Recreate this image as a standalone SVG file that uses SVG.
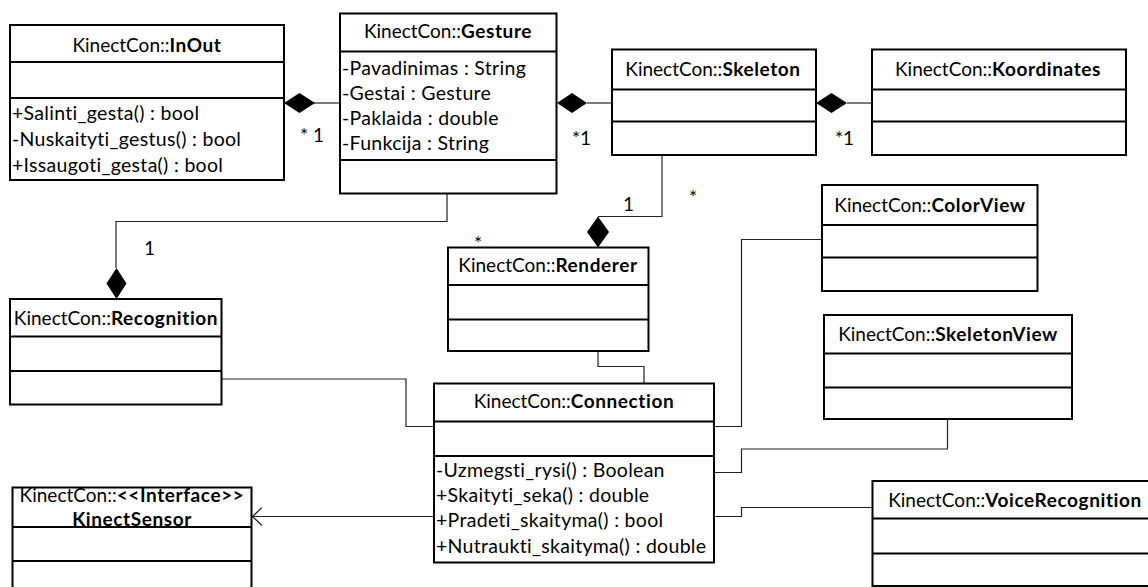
<svg xmlns="http://www.w3.org/2000/svg" width="1148" height="587" viewBox="0 0 1148 587">
  <style>
    text { font-family: Lato, "Liberation Sans", sans-serif; font-size: 19px; fill: #000; }
    .c { text-anchor: middle; }
    .b { font-weight: bold; letter-spacing: 0.6px; }
    .m { font-size: 19.5px; letter-spacing: 0.3px; }
    .box { fill: #fff; stroke: #000; stroke-width: 2; }
    .sep { stroke: #000; stroke-width: 2; }
    .wire { fill: none; stroke: #222; stroke-width: 1.2; }
    .dia { fill: #000; stroke: none; }
  </style>
  <rect width="1148" height="587" fill="#fff"/>

  <!-- associations -->
  <g id="connectors">
    <path class="wire" d="M314,103 H340"/>
    <path class="wire" d="M587,103 H612"/>
    <path class="wire" d="M847,103 H872"/>
    <path class="wire" d="M447,193 V221.5 H116 V268"/>
    <path class="wire" d="M662,155 V216.5 H598"/>
    <path class="wire" d="M598,351 V366.5 H644 V383"/>
    <path class="wire" d="M222,379 H406 V426.5 H434"/>
    <path class="wire" d="M822,239.5 H741.5 V426.5 H714"/>
    <path class="wire" d="M947.5,419 V449 H741.5 V472.5 H714"/>
    <path class="wire" d="M714,516.5 H741.5 V507.5 H872"/>
    <!-- dependency on the sensor interface, open arrowhead -->
    <path class="wire" d="M434,516.5 H253"/>
    <path class="wire" d="M262,507.5 L252.5,516.5 L262,525.5"/>
    <!-- composition diamonds -->
    <path class="dia" d="M284,103 L299.5,93 L315,103 L299.5,113 Z"/>
    <path class="dia" d="M557,103 L572,93 L587,103 L572,113 Z"/>
    <path class="dia" d="M816,103 L831.5,93 L847,103 L831.5,113 Z"/>
    <path class="dia" d="M116.5,268 L126.5,283.5 L116.5,299 L106.5,283.5 Z"/>
    <path class="dia" d="M598,216.5 L609,232 L598,247.5 L587,232 Z"/>
    <!-- multiplicities -->
    <text x="300" y="142">* 1</text>
    <text x="572" y="145">*1</text>
    <text x="835" y="145">*1</text>
    <text x="144" y="255">1</text>
    <text x="623" y="211">1</text>
    <text x="689" y="204">*</text>
    <text x="474" y="250">*</text>
  </g>

  <g id="inout">
    <rect class="box" x="10" y="25" width="274" height="155"/>
    <line class="sep" x1="10" y1="62" x2="284" y2="62"/>
    <line class="sep" x1="10" y1="98" x2="284" y2="98"/>
    <text class="c" x="147" y="52">KinectCon::<tspan class="b">InOut</tspan></text>
    <text class="m" x="12" y="120">+Salinti_gesta() : bool</text>
    <text class="m" x="12" y="146">-Nuskaityti_gestus() : bool</text>
    <text class="m" x="12" y="172">+Issaugoti_gesta() : bool</text>
  </g>

  <g id="gesture">
    <rect class="box" x="340" y="13.5" width="216.5" height="180"/>
    <line class="sep" x1="340" y1="51.5" x2="556.5" y2="51.5"/>
    <line class="sep" x1="340" y1="160" x2="556.5" y2="160"/>
    <text class="c" x="448" y="38">KinectCon::<tspan class="b">Gesture</tspan></text>
    <text class="m" x="342" y="75">-Pavadinimas : String</text>
    <text class="m" x="342" y="100">-Gestai : Gesture</text>
    <text class="m" x="342" y="125">-Paklaida : double</text>
    <text class="m" x="342" y="150">-Funkcija : String</text>
  </g>

  <g id="skeleton">
    <rect class="box" x="612" y="49.5" width="204" height="105.5"/>
    <line class="sep" x1="612" y1="89.5" x2="816" y2="89.5"/>
    <line class="sep" x1="612" y1="121.5" x2="816" y2="121.5"/>
    <text class="c" x="713" y="76">KinectCon::<tspan class="b">Skeleton</tspan></text>
  </g>

  <g id="koordinates">
    <rect class="box" x="872" y="49.5" width="254" height="105.5"/>
    <line class="sep" x1="872" y1="89.5" x2="1126" y2="89.5"/>
    <line class="sep" x1="872" y1="121.5" x2="1126" y2="121.5"/>
    <text class="c" x="998" y="76">KinectCon::<tspan class="b">Koordinates</tspan></text>
  </g>

  <g id="renderer">
    <rect class="box" x="448" y="247.5" width="200.5" height="103.5"/>
    <line class="sep" x1="448" y1="285" x2="648.5" y2="285"/>
    <line class="sep" x1="448" y1="319.5" x2="648.5" y2="319.5"/>
    <text class="c" x="548" y="272">KinectCon::<tspan class="b">Renderer</tspan></text>
  </g>

  <g id="recognition">
    <rect class="box" x="10" y="299" width="211.5" height="105.5"/>
    <line class="sep" x1="10" y1="336.5" x2="221.5" y2="336.5"/>
    <line class="sep" x1="10" y1="371" x2="221.5" y2="371"/>
    <text class="c" x="116" y="325">KinectCon::<tspan class="b">Recognition</tspan></text>
  </g>

  <g id="connection">
    <rect class="box" x="434" y="383.5" width="280" height="179"/>
    <line class="sep" x1="434" y1="421.5" x2="714" y2="421.5"/>
    <line class="sep" x1="434" y1="456" x2="714" y2="456"/>
    <text class="c" x="574" y="408">KinectCon::<tspan class="b">Connection</tspan></text>
    <text class="m" x="436" y="477">-Uzmegsti_rysi() : Boolean</text>
    <text class="m" x="436" y="502">+Skaityti_seka() : double</text>
    <text class="m" x="436" y="527">+Pradeti_skaityma() : bool</text>
    <text class="m" x="436" y="553">+Nutraukti_skaityma() : double</text>
  </g>

  <g id="colorview">
    <rect class="box" x="822" y="185" width="215.5" height="106"/>
    <line class="sep" x1="822" y1="225" x2="1037.5" y2="225"/>
    <line class="sep" x1="822" y1="257.5" x2="1037.5" y2="257.5"/>
    <text class="c" x="930" y="212">KinectCon::<tspan class="b">ColorView</tspan></text>
  </g>

  <g id="skeletonview">
    <rect class="box" x="824" y="315" width="248" height="104"/>
    <line class="sep" x1="824" y1="353.5" x2="1072" y2="353.5"/>
    <line class="sep" x1="824" y1="387.5" x2="1072" y2="387.5"/>
    <text class="c" x="948" y="341">KinectCon::<tspan class="b">SkeletonView</tspan></text>
  </g>

  <g id="voicerecognition">
    <rect class="box" x="872.5" y="481" width="290" height="105"/>
    <line class="sep" x1="872.5" y1="518.5" x2="1150" y2="518.5"/>
    <line class="sep" x1="872.5" y1="553.5" x2="1150" y2="553.5"/>
    <text class="c" x="1015" y="507">KinectCon::<tspan class="b">VoiceRecognition</tspan></text>
  </g>

  <g id="kinectsensor">
    <rect class="box" x="12.5" y="487.5" width="239" height="110"/>
    <line class="sep" x1="12.5" y1="527" x2="251.5" y2="527"/>
    <line class="sep" x1="12.5" y1="561" x2="251.5" y2="561"/>
    <text class="c" x="132" y="502">KinectCon::<tspan class="b">&lt;&lt;Interface&gt;&gt;</tspan></text>
    <text class="c b" x="132" y="526">KinectSensor</text>
  </g>
</svg>
